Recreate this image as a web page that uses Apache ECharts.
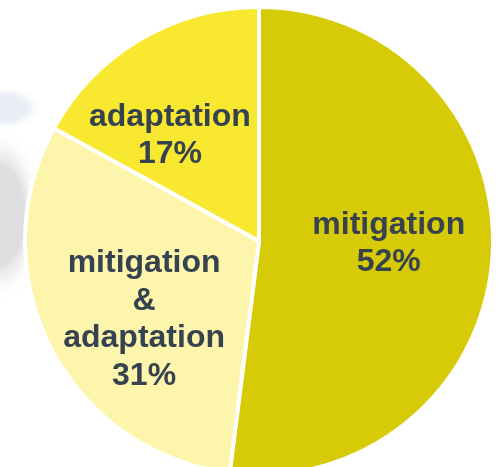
<!DOCTYPE html>
<html><head><meta charset="utf-8">
<style>html,body{margin:0;padding:0;background:#fff}#c{width:502px;height:467px}</style>
<script src="https://cdn.jsdelivr.net/npm/echarts@6/dist/echarts.min.js"></script>
</head><body><div id="c"></div>
<script>
const categories=['mitigation','mitigation\n&\nadaptation','adaptation'];
const values=[52,31,17];
const colors=['#D7CA06','#FCF5AB','#F8E82F'];
const labelOffsets=[[10,-5],[-8,24],[-28,-2]];
const glow=(c)=>new echarts.graphic.RadialGradient(0.5,0.5,0.5,[{offset:0,color:c},{offset:0.55,color:c},{offset:1,color:'rgba(255,255,255,0)'}]);
const chart=echarts.init(document.getElementById('c'),null,{renderer:'canvas'});
chart.setOption({
  animation:false,
  graphic:[
    {type:'circle',z:-10,silent:true,x:0,y:215,scaleX:0.5,scaleY:1,shape:{r:88},style:{fill:glow('#dedee0')}},
    {type:'circle',z:-10,silent:true,x:6,y:108,scaleX:1,scaleY:0.6,shape:{r:38},style:{fill:glow('#e9edf6')}}
  ],
  series:[{
    type:'pie',
    center:[259,241],
    radius:[0,234],
    startAngle:90,
    clockwise:true,
    data:categories.map((n,i)=>({name:n,value:values[i],itemStyle:{color:colors[i]},label:{offset:labelOffsets[i]}})),
    itemStyle:{borderColor:'#fff',borderWidth:4},
    label:{position:'inside',formatter:p=>p.name+'\n'+p.value+'%',color:'#36424F',
      fontFamily:'Liberation Sans',fontWeight:'bold',fontSize:32,lineHeight:37.5},
    labelLine:{show:false}
  }]
});
</script></body></html>
